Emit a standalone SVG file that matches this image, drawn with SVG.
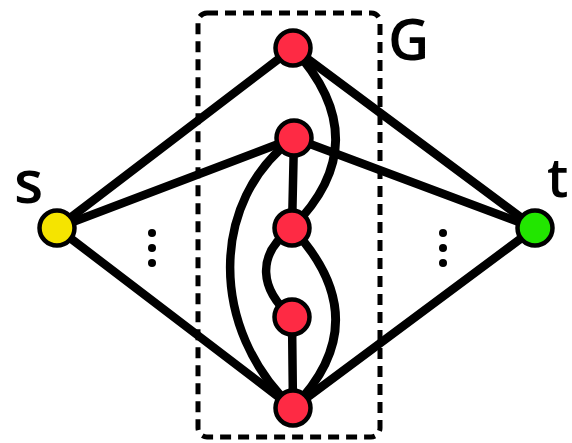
<svg xmlns="http://www.w3.org/2000/svg" width="572" height="443" viewBox="0 0 572 443">
<style>
.e{fill:none;stroke:#000;stroke-width:8.5;stroke-linecap:round}
.n{stroke:#000;stroke-width:4.5}
.r{fill:#fe2a44}
.lbl{font-family:"Open Sans","Liberation Sans",Arial,sans-serif;font-weight:600;fill:#000}
</style>
<rect x="0" y="0" width="572" height="443" fill="#fff"/>
<rect id="box" x="198" y="13" width="182" height="424" rx="9" fill="none" stroke="#000" stroke-width="5" stroke-dasharray="11,7"/>
<g id="connectors">
<path class="e" d="M57,228 L293,48"/>
<path class="e" d="M57,228 L294,138"/>
<path class="e" d="M57,228 L293,408"/>
<path class="e" d="M535,228 L293,48"/>
<path class="e" d="M535,228 L294,138"/>
<path class="e" d="M535,228 L293,408"/>
<path class="e" d="M294,138 L292,228"/>
<path class="e" d="M292,317 L293,408"/>
<path class="e" d="M293,48 C350,110 350,170 292,228"/>
<path class="e" d="M294,138 C209,200 209,330 293,408"/>
<path class="e" d="M292,228 C255,255 260,290 292,317"/>
<path class="e" d="M292,228 C350,290 350,350 293,408"/>
</g>
<g id="dots">
<circle cx="152" cy="233" r="4"/><circle cx="152" cy="248" r="4"/><circle cx="152" cy="263" r="4"/>
<circle cx="443" cy="233" r="4"/><circle cx="443" cy="248" r="4"/><circle cx="443" cy="263" r="4"/>
</g>
<g id="s"><circle class="n" cx="57" cy="228" r="17.5" fill="#f5e400"/></g>
<g id="t"><circle class="n" cx="535" cy="228" r="17.5" fill="#22e600"/></g>
<g id="v1"><circle class="n r" cx="293" cy="48" r="17.5"/></g>
<g id="v2"><circle class="n r" cx="294" cy="138" r="17.5"/></g>
<g id="v3"><circle class="n r" cx="292" cy="228" r="17.5"/></g>
<g id="v4"><circle class="n r" cx="292" cy="317" r="17.5"/></g>
<g id="v5"><circle class="n r" cx="293" cy="408" r="17.5"/></g>
<text class="lbl" x="14" y="203" font-size="60">s</text>
<text class="lbl" x="547" y="197" font-size="54">t</text>
<text class="lbl" x="388" y="60" font-size="57" font-weight="500">G</text>
</svg>
